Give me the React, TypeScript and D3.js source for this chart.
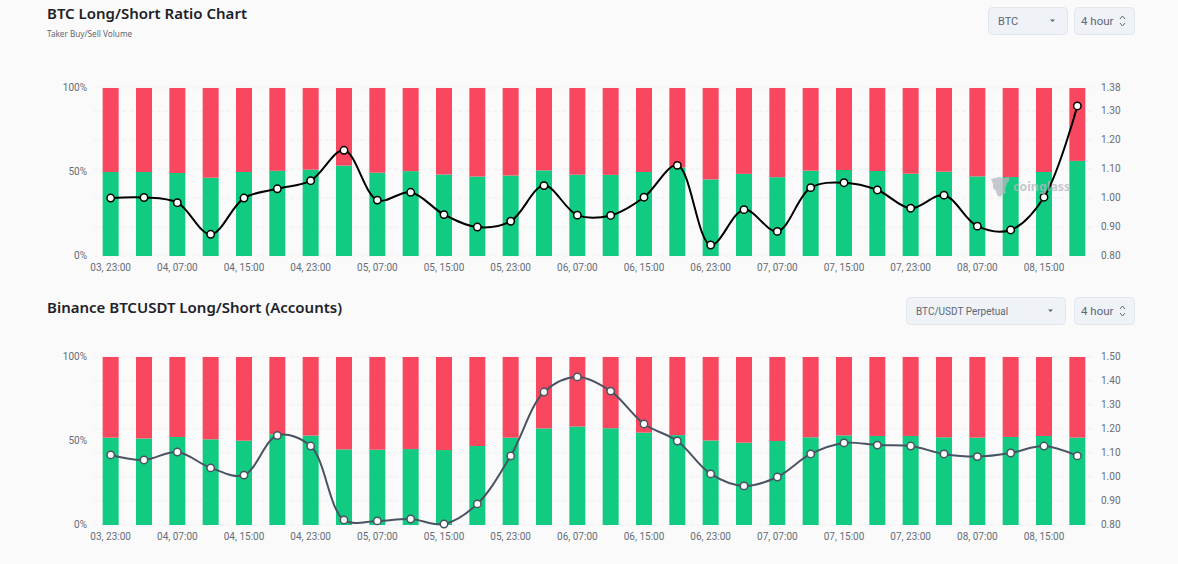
import React, { useEffect, useRef } from 'react';
import * as d3 from 'd3';

const categories = [
  '03, 23:00', '04, 03:00', '04, 07:00', '04, 11:00', '04, 15:00', '04, 19:00',
  '04, 23:00', '05, 03:00', '05, 07:00', '05, 11:00', '05, 15:00', '05, 19:00',
  '05, 23:00', '06, 03:00', '06, 07:00', '06, 11:00', '06, 15:00', '06, 19:00',
  '06, 23:00', '07, 03:00', '07, 07:00', '07, 11:00', '07, 15:00', '07, 19:00',
  '07, 23:00', '08, 03:00', '08, 07:00', '08, 11:00', '08, 15:00', '08, 19:00',
];

const takerLong = [
  50, 50, 49.4, 46.6, 50, 50.7, 51.4, 53.8, 49.6, 50.5, 48.5, 47.3, 47.9, 51,
  48.4, 48.3, 50, 52.7, 45.6, 48.9, 46.9, 50.8, 51.2, 50.6, 49, 50.2, 47.4, 47, 50, 56.6,
];
const takerRatio = [
  1.0, 1.002, 0.984, 0.875, 1.0, 1.032, 1.06, 1.165, 0.993, 1.02, 0.943, 0.9, 0.92, 1.043,
  0.941, 0.94, 1.003, 1.113, 0.838, 0.96, 0.885, 1.036, 1.053, 1.028, 0.965, 1.01, 0.903, 0.89, 1.003, 1.318,
];
const accountLong = [
  52, 51.5, 52.4, 51, 50.2, 54, 53.2, 45, 44.8, 45.2, 44.6, 47, 52, 57.5,
  58.6, 57.6, 55, 53.5, 50.3, 49, 50, 52.2, 53.3, 53, 53, 52.2, 52, 52.4, 53, 52,
];
const accountRatio = [
  1.092, 1.071, 1.104, 1.038, 1.008, 1.173, 1.129, 0.821, 0.817, 0.825, 0.804, 0.888, 1.088, 1.354,
  1.417, 1.358, 1.221, 1.15, 1.013, 0.963, 1.0, 1.096, 1.142, 1.133, 1.129, 1.096, 1.085, 1.1, 1.129, 1.088,
];

const percentTicks = [0, 50, 100];
const takerTicks = [0.8, 0.9, 1.0, 1.1, 1.2, 1.3, 1.38];
const accountTicks = [0.8, 0.9, 1.0, 1.1, 1.2, 1.3, 1.4, 1.5];
const xLabels = categories.filter((_, i) => i % 2 === 0);

const GREEN = '#10cb81';
const RED = '#f9475f';
const TICK_FONT = 'Roboto, sans-serif';
const UI_FONT = '"Noto Sans", sans-serif';

function drawPanel(
  node: SVGGElement,
  longs: number[],
  ratios: number[],
  ratioTicks: number[],
  top: number,
  bottom: number,
  lineColor: string,
) {
  const root = d3.select(node);
  root.selectAll('*').remove();

  const x = d3.scaleBand<string>().domain(categories).range([94, 1094]).paddingInner(0.52).paddingOuter(0.26);
  const yPct = d3.scaleLinear().domain([0, 100]).range([bottom, top]);
  const yRatio = d3.scaleLinear().domain(d3.extent(ratioTicks) as [number, number]).range([bottom, top]);
  const mid = (i: number) => (x(categories[i]) as number) + x.bandwidth() / 2;

  // dashed grid follows the ratio axis
  root.append('g').selectAll('line').data(ratioTicks).enter().append('line')
    .attr('x1', 94).attr('x2', 1094)
    .attr('y1', d => yRatio(d)).attr('y2', d => yRatio(d))
    .attr('stroke', '#efefef').attr('stroke-dasharray', '4 3');

  const rows = longs.map((l, i) => ({ i, long: l, short: 100 - l }));
  const stacked = d3.stack<any>().keys(['long', 'short'])(rows);
  const colors = [GREEN, RED];
  stacked.forEach((layer, k) => {
    root.append('g').selectAll('rect').data(layer).enter().append('rect')
      .attr('x', d => x(categories[d.data.i]) as number)
      .attr('width', x.bandwidth())
      .attr('y', d => yPct(d[1]))
      .attr('height', d => yPct(d[0]) - yPct(d[1]))
      .attr('fill', colors[k]);
  });

  const styleAxis = (g: d3.Selection<SVGGElement, unknown, null, undefined>) => {
    g.select('.domain').remove();
    g.selectAll('.tick line').remove();
    g.selectAll('text').attr('fill', '#666d78').attr('font-size', 10).attr('font-family', TICK_FONT);
  };

  root.append('g').attr('transform', 'translate(94,0)')
    .call(d3.axisLeft(yPct).tickValues(percentTicks).tickFormat(d => `${d}%`).tickSize(0).tickPadding(7))
    .call(styleAxis)
    .selectAll('text').attr('y', -1);
  root.append('g').attr('transform', 'translate(1094,0)')
    .call(d3.axisRight(yRatio).tickValues(ratioTicks).tickFormat(d3.format('.2f')).tickSize(0).tickPadding(7))
    .call(styleAxis)
    .selectAll('text').attr('y', -1);
  root.append('g').attr('transform', `translate(0,${bottom})`)
    .call(d3.axisBottom(x).tickValues(xLabels).tickSize(0).tickPadding(8))
    .call(styleAxis);

  const line = d3.line<number>()
    .x((_, i) => mid(i))
    .y(d => yRatio(d))
    .curve(d3.curveCatmullRom.alpha(0.5));
  root.append('path').attr('d', line(ratios)).attr('fill', 'none')
    .attr('stroke', lineColor).attr('stroke-width', 2);
  root.append('g').selectAll('circle').data(ratios).enter().append('circle')
    .attr('cx', (_, i) => mid(i))
    .attr('cy', d => yRatio(d))
    .attr('r', 3.7)
    .attr('fill', '#fff')
    .attr('stroke', lineColor)
    .attr('stroke-width', 1.5);
}

function Panel(props: { longs: number[]; ratios: number[]; ticks: number[]; top: number; bottom: number; color: string }) {
  const ref = useRef<SVGGElement>(null);
  useEffect(() => {
    if (!ref.current) return;
    drawPanel(ref.current, props.longs, props.ratios, props.ticks, props.top, props.bottom, props.color);
  }, []);
  return <g ref={ref} />;
}

function Select({ x, y, w, label, size }: { x: number; y: number; w: number; label: string; size: number }) {
  return (
    <g>
      <rect x={x + 0.5} y={y + 0.5} width={w} height={27} rx={4} fill="#eff2f6" stroke="#e2e7ee" />
      <text x={x + 10} y={y + 17.5} fontFamily={TICK_FONT} fontSize={size} fill="#5f6772">{label}</text>
      <path d={`M${x + w - 17},${y + 12.5} h5 l-2.5,2.5 z`} fill="#5f6772" />
    </g>
  );
}

function Interval({ x, y }: { x: number; y: number }) {
  return (
    <g>
      <rect x={x + 0.5} y={y + 0.5} width={60} height={27} rx={4} fill="#eff2f6" stroke="#e2e7ee" />
      <text x={x + 7} y={y + 17.5} fontFamily={TICK_FONT} fontSize={11.5} fill="#5f6772">4 hour</text>
      <path
        d={`M${x + 46},${y + 12} l2.5,-3 l2.5,3 M${x + 46},${y + 16} l2.5,3 l2.5,-3`}
        fill="none"
        stroke="#5f6772"
        strokeWidth={1}
      />
    </g>
  );
}

export default function App() {
  return (
    <svg
      width={1178}
      height={564}
      style={{ position: 'absolute', left: 0, top: 0, display: 'block', background: '#fafafa' }}
    >
      <text x={47} y={19} fontFamily={UI_FONT} fontSize={15} fontWeight={600} fill="#1d2229">BTC Long/Short Ratio Chart</text>
      <text x={47} y={37} fontFamily={UI_FONT} fontSize={8.2} fill="#5f6772">Taker Buy/Sell Volume</text>
      <text x={47} y={313} fontFamily={UI_FONT} fontSize={15} fontWeight={600} fill="#1d2229">Binance BTCUSDT Long/Short (Accounts)</text>

      <Select x={988} y={7} w={79} label="BTC" size={11} />
      <Interval x={1074} y={7} />
      <Select x={906} y={297} w={159} label="BTC/USDT Perpetual" size={10} />
      <Interval x={1074} y={297} />

      <Panel longs={takerLong} ratios={takerRatio} ticks={takerTicks} top={88} bottom={256} color="#000000" />
      <Panel longs={accountLong} ratios={accountRatio} ticks={accountTicks} top={357} bottom={525} color="#4a5362" />

      <g opacity={0.75} fill="#b4b8be">
        <path d="M991,179 l5,-1 l2,-1 l6,1 l5,-1 l0,4 l-2,2 l-1,4 l-1,3 l1,3 l-3,1 l-3,3 l-3,-2 l-1,-4 l-3,-3 l0,-4 z" />
        <text x={1013} y={191} fontFamily={UI_FONT} fontSize={12.4} fontWeight={700}>coinglass</text>
      </g>
    </svg>
  );
}
